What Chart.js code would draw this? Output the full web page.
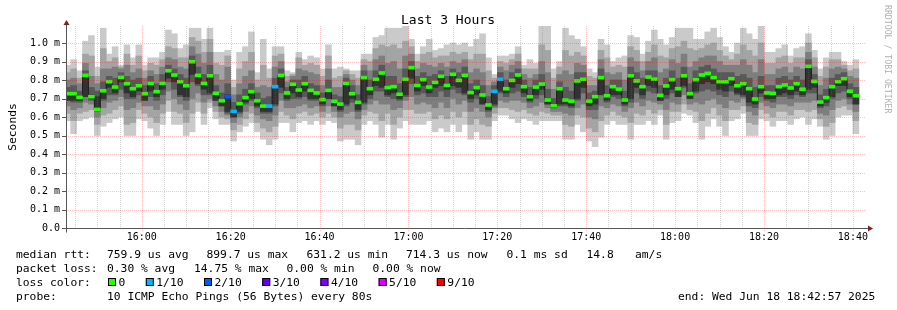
<!DOCTYPE html>
<html>
<head>
<meta charset="utf-8">
<script src="https://cdn.jsdelivr.net/npm/chart.js@4.4.1/dist/chart.umd.min.js"></script>
<style>
  html, body { margin: 0; padding: 0; background: #fff; }
</style>
</head>
<body>
<canvas id="smoke" width="897" height="310"></canvas>
<script>
// one bar per 80 s step, 10 pings per step, values in ms (sorted ping1 = fastest)
const firstStep = '15:42:40';
const stepSeconds = 80;
const viewStart = '15:42:57';
const viewEnd = '18:42:57';

const median = [
  .726,.726,.706,.825,.710,.641,.742,.791,.762,.814,
  .780,.753,.769,.726,.782,.737,.782,.850,.827,.791,
  .769,.899,.825,.782,.823,.728,.688,.710,.631,.672,
  .705,.737,.688,.659,.659,.764,.825,.730,.777,.746,
  .780,.744,.730,.694,.744,.685,.670,.782,.726,.679,
  .813,.753,.804,.838,.759,.764,.723,.804,.867,.771,
  .802,.762,.787,.820,.771,.831,.798,.825,.732,.759,
  .719,.665,.739,.804,.753,.798,.827,.764,.710,.762,
  .778,.692,.661,.753,.692,.686,.795,.804,.686,.710,
  .813,.715,.764,.751,.692,.823,.795,.764,.816,.805,
  .717,.768,.802,.753,.823,.726,.802,.827,.836,.813,
  .791,.791,.807,.769,.780,.753,.697,.764,.730,.728,
  .764,.773,.757,.780,.750,.874,.793,.681,.705,.764,
  .791,.807,.739,.715
];

// lost pings out of 10
const lossCount = [
  0,0,0,0,0,0,0,0,0,0, 0,0,0,0,0,0,0,0,0,0,
  0,0,0,0,0,0,0,2,1,0, 0,0,0,0,1,1,0,0,0,0,
  0,0,0,0,0,0,0,0,0,0, 0,0,0,0,0,0,0,0,0,0,
  0,0,0,0,0,0,0,0,0,0, 0,0,1,1,0,0,0,0,0,0,
  0,0,0,0,0,0,0,0,0,0, 0,0,0,0,0,0,0,0,0,0,
  0,0,0,0,0,0,0,0,0,0, 0,0,0,0,0,0,0,0,0,0,
  0,0,0,0,0,0,0,0,0,0, 0,0,0,0
];

const ping1 = [
  .58,.51,.58,.59,.60,.50,.55,.57,.59,.60, .50,.50,.59,.58,.54,.50,.56,.63,.56,.56,
  .50,.52,.63,.56,.65,.59,.56,.56,.47,.52, .55,.57,.52,.48,.45,.48,.57,.57,.52,.57,
  .58,.56,.58,.56,.58,.57,.47,.48,.48,.45, .56,.58,.56,.49,.56,.48,.54,.58,.56,.56,
  .56,.58,.52,.54,.52,.56,.52,.56,.48,.52, .48,.48,.58,.61,.61,.59,.57,.59,.58,.56,
  .58,.58,.58,.58,.48,.48,.56,.52,.47,.44, .49,.56,.58,.56,.56,.48,.56,.56,.58,.56,
  .61,.48,.57,.58,.62,.61,.57,.48,.55,.59, .55,.50,.58,.59,.62,.50,.50,.59,.58,.55,
  .58,.58,.56,.59,.60,.56,.59,.55,.48,.50, .60,.61,.61,.51
];
const ping2 = [
  .62,.58,.62,.63,.64,.56,.61,.62,.64,.66, .56,.57,.64,.62,.60,.57,.62,.69,.63,.62,
  .57,.62,.68,.62,.68,.63,.60,.59,.53,.56, .59,.62,.57,.54,.52,.55,.63,.61,.59,.62,
  .63,.61,.62,.60,.62,.60,.54,.56,.56,.53, .61,.63,.62,.58,.62,.56,.60,.64,.64,.62,
  .62,.63,.59,.61,.59,.63,.60,.63,.56,.59, .56,.55,.62,.65,.65,.64,.63,.64,.62,.61,
  .63,.62,.61,.61,.56,.55,.61,.60,.54,.52, .58,.61,.63,.61,.60,.57,.62,.61,.64,.62,
  .64,.56,.63,.63,.67,.64,.63,.58,.62,.65, .61,.58,.64,.64,.66,.57,.56,.64,.62,.60,
  .63,.63,.61,.64,.64,.63,.64,.59,.55,.57, .65,.66,.64,.58
];
const ping3 = [
  .66,.64,.65,.68,.67,.60,.65,.68,.69,.71, .64,.65,.68,.66,.66,.64,.67,.74,.70,.67,
  .64,.70,.73,.68,.70,.66,.63,.61,.57,.60, .63,.66,.61,.59,.58,.61,.69,.65,.65,.66,
  .67,.65,.66,.63,.66,.63,.60,.62,.63,.59, .64,.67,.69,.67,.67,.64,.65,.69,.71,.67,
  .68,.67,.65,.68,.65,.70,.67,.69,.63,.65, .63,.60,.65,.69,.68,.69,.69,.68,.65,.66,
  .68,.65,.63,.63,.62,.61,.65,.67,.60,.59, .66,.65,.67,.66,.63,.65,.68,.66,.69,.68,
  .67,.64,.68,.67,.72,.67,.68,.67,.69,.70, .67,.65,.69,.68,.70,.63,.61,.68,.66,.65,
  .67,.67,.66,.68,.68,.68,.69,.62,.61,.64, .69,.70,.67,.63
];
const ping4 = [
  .69,.68,.68,.71,.69,.63,.69,.72,.72,.75, .70,.70,.72,.69,.71,.69,.72,.79,.75,.71,
  .69,.79,.77,.72,.72,.69,.66,.62,.60,.62, .67,.69,.65,.62,.62,.66,.73,.69,.70,.70,
  .71,.69,.69,.66,.70,.66,.63,.66,.68,.63, .67,.70,.74,.74,.71,.70,.69,.71,.78,.72,
  .73,.71,.71,.74,.71,.75,.73,.72,.68,.70, .67,.63,.66,.73,.71,.73,.74,.71,.68,.70,
  .72,.67,.65,.66,.66,.65,.69,.73,.64,.64, .72,.68,.71,.70,.66,.68,.73,.70,.74,.73,
  .69,.70,.73,.71,.76,.70,.73,.74,.75,.74, .72,.71,.74,.72,.71,.66,.65,.71,.69,.68,
  .71,.71,.70,.72,.71,.73,.73,.65,.66,.70, .73,.74,.70,.67
];
const ping5 = [
  .69,.69,.69,.71,.70,.64,.70,.76,.73,.79, .73,.71,.74,.69,.74,.71,.75,.81,.79,.72,
  .71,.83,.78,.75,.73,.69,.66,.63,.60,.63, .68,.70,.66,.63,.63,.67,.76,.70,.73,.71,
  .74,.70,.70,.67,.70,.66,.64,.67,.70,.64, .68,.72,.77,.76,.72,.73,.70,.72,.81,.74,
  .77,.73,.76,.77,.75,.77,.76,.73,.70,.72, .67,.64,.67,.74,.73,.76,.78,.73,.69,.72,
  .75,.67,.65,.67,.67,.66,.70,.76,.66,.67, .72,.69,.72,.72,.67,.70,.76,.72,.77,.76,
  .69,.72,.75,.71,.77,.70,.74,.78,.79,.78, .75,.74,.77,.73,.72,.68,.67,.73,.70,.70,
  .72,.73,.72,.74,.72,.75,.76,.66,.68,.71, .77,.77,.71,.67
];
const ping6 = [
  .73,.73,.71,.83,.72,.71,.75,.79,.77,.82, .78,.76,.77,.73,.79,.74,.79,.85,.83,.80,
  .77,.90,.83,.79,.83,.73,.69,.72,.64,.68, .71,.74,.69,.66,.66,.77,.83,.73,.78,.75,
  .78,.75,.73,.70,.75,.69,.67,.79,.73,.68, .82,.76,.81,.84,.76,.77,.73,.81,.87,.78,
  .80,.77,.79,.82,.78,.83,.80,.83,.74,.76, .72,.67,.74,.81,.76,.80,.83,.77,.72,.77,
  .78,.70,.67,.76,.70,.69,.80,.81,.69,.71, .82,.72,.77,.76,.70,.83,.80,.77,.82,.81,
  .72,.77,.80,.76,.83,.73,.81,.83,.84,.82, .80,.80,.81,.77,.78,.76,.70,.77,.73,.73,
  .77,.78,.76,.78,.75,.88,.80,.69,.71,.77, .80,.81,.74,.72
];
const ping7 = [
  .76,.77,.74,.85,.76,.74,.79,.82,.81,.84, .82,.80,.81,.77,.82,.78,.83,.88,.86,.83,
  .81,.93,.87,.83,.88,.77,.73,.78,.68,.72, .75,.78,.73,.70,.71,.81,.86,.76,.80,.80,
  .82,.78,.77,.73,.80,.72,.71,.81,.77,.72, .85,.80,.85,.88,.82,.82,.78,.86,.90,.82,
  .84,.82,.83,.85,.82,.86,.84,.87,.78,.80, .77,.71,.77,.84,.80,.84,.86,.80,.76,.80,
  .83,.75,.70,.79,.76,.74,.84,.84,.73,.74, .86,.77,.80,.80,.74,.87,.84,.81,.85,.85,
  .77,.81,.85,.81,.87,.78,.85,.87,.88,.86, .84,.84,.84,.82,.83,.81,.76,.82,.77,.77,
  .81,.82,.80,.82,.80,.91,.83,.72,.75,.81, .83,.84,.78,.76
];
const ping8 = [
  .80,.81,.78,.89,.82,.78,.86,.86,.87,.86, .88,.84,.86,.81,.85,.83,.87,.92,.91,.87,
  .86,.98,.94,.89,.95,.83,.80,.87,.72,.78, .82,.85,.76,.77,.76,.87,.90,.79,.82,.86,
  .85,.84,.83,.77,.86,.76,.76,.83,.80,.77, .88,.85,.91,.93,.89,.90,.86,.93,.94,.86,
  .89,.88,.87,.89,.87,.90,.89,.91,.84,.86, .84,.77,.79,.87,.85,.88,.90,.83,.81,.83,
  .90,.84,.75,.83,.85,.83,.89,.88,.77,.77, .91,.84,.83,.84,.80,.92,.90,.85,.90,.92,
  .84,.86,.91,.89,.94,.87,.90,.92,.93,.93, .90,.88,.88,.88,.91,.88,.84,.91,.83,.83,
  .86,.87,.84,.87,.86,.95,.87,.77,.81,.86, .87,.86,.82,.81
];
const ping9 = [
  .84,.86,.81,.94,.93,.82,.97,.90,.92,.87, .94,.88,.93,.85,.89,.88,.91,.98,.97,.92,
  .92,1.03,1.01,.95,1.02,.89,.88,.93,.76,.86, .90,.95,.80,.88,.81,.93,.94,.82,.83,.92,
  .88,.89,.88,.82,.93,.81,.82,.85,.83,.81, .91,.90,.97,.99,.98,.99,.97,1.01,.98,.90,
  .94,.95,.92,.93,.93,.95,.94,.95,.91,.94, .94,.85,.81,.90,.89,.91,.94,.86,.86,.86,
  .99,.96,.81,.87,.96,.93,.95,.93,.82,.81, .96,.92,.87,.88,.87,.98,.96,.90,.95,.99,
  .93,.92,.97,.98,1.01,.97,.96,.97,.99,1.00, .96,.93,.91,.94,.99,.96,.93,1.00,.89,.89,
  .92,.93,.89,.92,.92,1.00,.92,.82,.87,.91, .91,.88,.85,.86
];
const ping10 = [
  .88,.91,.85,1.01,1.04,.87,1.08,.94,.98,.88, .99,.92,.99,.88,.92,.92,.95,1.07,1.05,.97,
  .99,1.08,1.08,1.02,1.08,.95,.95,.96,.80,.95, .98,1.06,.84,1.02,.86,.98,.98,.85,.84,.95,
  .91,.93,.92,.86,.99,.86,.87,.86,.85,.85, .94,.94,1.03,1.04,1.08,1.08,1.08,1.09,1.02,.94,
  .98,1.02,.96,.97,.99,1.00,.99,1.00,.98,1.02, 1.05,.92,.83,.93,.93,.94,.98,.88,.91,.89,
  1.09,1.09,.86,.90,1.08,1.04,1.02,.98,.86,.84, 1.02,.99,.90,.92,.93,1.04,1.03,.94,1.01,1.07,
  1.02,.99,1.03,1.08,1.08,1.08,1.02,1.02,1.06,1.08, 1.03,.98,.95,1.00,1.08,1.05,1.02,1.09,.95,.95,
  .97,.99,.93,.97,.98,1.05,.96,.86,.92,.95, .95,.90,.88,.91
];

const xTickLabels = ['16:00', '16:20', '16:40', '17:00', '17:20', '17:40', '18:00', '18:20', '18:40'];
const yTickValues = [0, 0.1, 0.2, 0.3, 0.4, 0.5, 0.6, 0.7, 0.8, 0.9, 1.0];
const yTickLabels = ['0.0', '0.1 m', '0.2 m', '0.3 m', '0.4 m', '0.5 m', '0.6 m', '0.7 m', '0.8 m', '0.9 m', '1.0 m'];

const lossLabels = ['0', '1/10', '2/10', '3/10', '4/10', '5/10', '9/10'];
const lossColors = ['#26ff00', '#00b8ff', '#0059ff', '#5e00ff', '#7e00ff', '#dd00ff', '#ff0000'];

const statLines = [
  [['median rtt:', 16], ['759.9 us avg', 107], ['899.7 us max', 206.5], ['631.2 us min', 306.5], ['714.3 us now', 406], ['0.1 ms sd', 506.5], ['14.8', 586.5], ['am/s', 635]],
  [['packet loss:', 16], ['0.30 % avg', 107], ['14.75 % max', 194], ['0.00 % min', 286.5], ['0.00 % now', 372.5]],
  [['loss color:', 16]],
  [['probe:', 16], ['10 ICMP Echo Pings (56 Bytes) every 80s', 107], ['end: Wed Jun 18 18:42:57 2025', 678]]
];

const MONO = 'DejaVu Sans Mono';
const toSec = s => s.split(':').map(Number).reduce((a, v) => a * 60 + v, 0);
const t0 = toSec(firstStep);
const centers = median.map((_, i) => t0 + i * stepSeconds + stepSeconds / 2);
const pings = [ping1, ping2, ping3, ping4, ping5, ping6, ping7, ping8, ping9, ping10];
const smokeGreys = ['#cacaca', '#a4a4a4', '#7e7e7e', '#585858', '#323232'];
const lossIndex = c => c <= 4 ? c : (c <= 8 ? 5 : 6);
const markHalf = 0.008;

const barBase = { type: 'bar', grouped: false, barPercentage: 1, categoryPercentage: 1, borderWidth: 0 };

const datasets = smokeGreys.map((grey, b) => Object.assign({}, barBase, {
  data: centers.map((x, i) => ({ x: x, y: [pings[b][i], pings[9 - b][i]] })),
  backgroundColor: grey,
  order: 6 - b
}));
datasets.push({
  type: 'line',
  data: centers.map((x, i) => ({ x: x, y: median[i] })),
  stepped: 'middle',
  borderColor: '#202020',
  borderWidth: 1,
  pointRadius: 0,
  order: 1
});
datasets.push(Object.assign({}, barBase, {
  data: centers.map((x, i) => ({ x: x, y: [median[i] - markHalf, median[i] + markHalf] })),
  backgroundColor: lossCount.map(c => lossColors[lossIndex(c)]),
  order: 0
}));

function seg(ctx, x1, y1, x2, y2) {
  ctx.beginPath(); ctx.moveTo(x1, y1); ctx.lineTo(x2, y2); ctx.stroke();
}

const frame = {
  id: 'frame',
  afterDatasetsDraw(chart) {
    const { ctx, chartArea: a, scales: { x, y } } = chart;
    const majors = xTickLabels.map(l => toSec(l + ':00'));
    ctx.save();
    ctx.lineWidth = 1;
    ctx.setLineDash([1, 1]);
    // minor 5 minute grid
    ctx.strokeStyle = 'rgba(120,120,120,0.32)';
    for (let t = Math.ceil(x.min / 300) * 300; t <= x.max; t += 300) {
      if (majors.indexOf(t) >= 0) continue;
      const px = Math.round(x.getPixelForValue(t)) + 0.5;
      seg(ctx, px, a.top, px, a.bottom);
    }
    ctx.strokeStyle = 'rgba(255,0,0,0.24)';
    majors.forEach(t => {
      const px = Math.round(x.getPixelForValue(t)) + 0.5;
      seg(ctx, px, a.top, px, a.bottom + 3);
    });
    yTickValues.forEach(v => {
      if (v === 0) return;
      const py = Math.round(y.getPixelForValue(v)) + 0.5;
      seg(ctx, a.left, py, a.right, py);
    });
    ctx.setLineDash([]);
    // axes
    ctx.strokeStyle = '#555';
    yTickValues.forEach(v => {
      const py = Math.round(y.getPixelForValue(v)) + 0.5;
      seg(ctx, a.left - 4, py, a.left, py);
    });
    const bx = Math.round(a.left) + 0.5, by = Math.round(a.bottom) + 0.5;
    seg(ctx, bx, by + 4, bx, a.top - 1);
    seg(ctx, a.left - 4, by, a.right + 3, by);
    ctx.fillStyle = '#7f1f1f';
    ctx.beginPath(); ctx.moveTo(bx - 3, a.top - 1); ctx.lineTo(bx, a.top - 6); ctx.lineTo(bx + 3, a.top - 1); ctx.closePath(); ctx.fill();
    ctx.beginPath(); ctx.moveTo(a.right + 2, by - 3); ctx.lineTo(a.right + 7, by); ctx.lineTo(a.right + 2, by + 3); ctx.closePath(); ctx.fill();
    ctx.restore();
  },
  afterDraw(chart) {
    const { ctx } = chart;
    ctx.save();
    ctx.fillStyle = '#000';
    ctx.textBaseline = 'alphabetic';
    ctx.font = '13px "' + MONO + '"';
    ctx.textAlign = 'center';
    ctx.fillText('Last 3 Hours', 448, 24);

    ctx.font = '11.3px "' + MONO + '"';
    ctx.save();
    ctx.translate(16, 127);
    ctx.rotate(-Math.PI / 2);
    ctx.fillText('Seconds', 0, 0);
    ctx.restore();

    ctx.textAlign = 'left';
    statLines.forEach((line, r) => {
      line.forEach(([txt, px]) => ctx.fillText(txt, px, 258 + r * 14));
    });
    // loss colour legend
    let lx = 108;
    lossLabels.forEach((lab, i) => {
      ctx.fillStyle = lossColors[i];
      ctx.fillRect(lx, 278, 8, 8);
      ctx.strokeStyle = '#000';
      ctx.lineWidth = 1;
      ctx.strokeRect(lx + 0.5, 278.5, 7, 7);
      ctx.fillStyle = '#000';
      ctx.fillText(lab, lx + 10.5, 286);
      lx += 10.5 + ctx.measureText(lab).width + 20.5;
    });

    ctx.fillStyle = '#b0b0b0';
    ctx.font = '8.2px "' + MONO + '"';
    ctx.translate(885, 5);
    ctx.rotate(Math.PI / 2);
    ctx.fillText('RRDTOOL / TOBI OETIKER', 0, 0);
    ctx.restore();
  }
};

new Chart(document.getElementById('smoke'), {
  type: 'bar',
  data: { datasets: datasets },
  options: {
    responsive: false,
    animation: false,
    events: [],
    layout: { padding: { left: 0, top: 26, right: 31, bottom: 0 } },
    plugins: { legend: { display: false }, tooltip: { enabled: false }, title: { display: false } },
    scales: {
      x: {
        type: 'linear',
        offset: false,
        min: toSec(viewStart),
        max: toSec(viewEnd),
        afterBuildTicks: s => { s.ticks = xTickLabels.map(l => ({ value: toSec(l + ':00') })); },
        afterFit: s => { s.height = 82; },
        ticks: {
          autoSkip: false, maxRotation: 0, padding: 3, color: '#000',
          font: { family: MONO, size: 10 },
          callback: (v, i) => xTickLabels[i]
        },
        grid: { display: false, drawTicks: false },
        border: { display: false }
      },
      y: {
        type: 'linear',
        min: 0,
        max: 1.092,
        afterBuildTicks: s => { s.ticks = yTickValues.map(v => ({ value: v })); },
        afterFit: s => { s.width = 66; },
        ticks: {
          padding: 6, color: '#000',
          font: { family: MONO, size: 10 },
          callback: (v, i) => yTickLabels[i]
        },
        grid: { display: false, drawTicks: false },
        border: { display: false }
      }
    }
  },
  plugins: [frame]
});
</script>
</body>
</html>
